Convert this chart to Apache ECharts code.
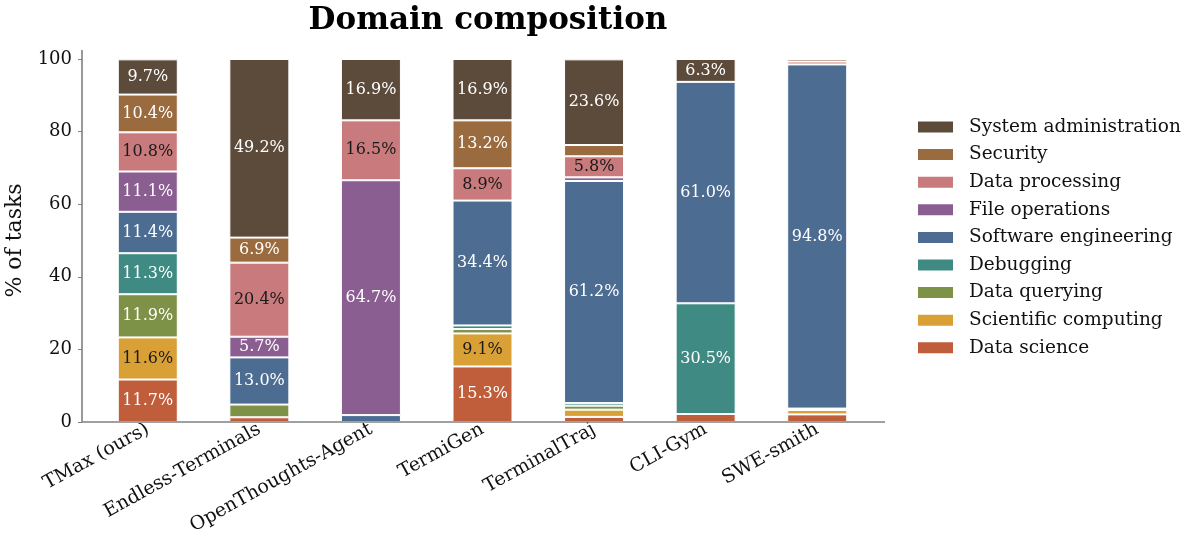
<!DOCTYPE html>
<html>
<head>
<meta charset="utf-8">
<script src="https://cdn.jsdelivr.net/npm/echarts@6/dist/echarts.min.js"></script>
<style>html,body{margin:0;padding:0;background:#fff}#c{width:1193px;height:535px}</style>
</head>
<body>
<div id="c"></div>
<script>
const categories = ['TMax (ours)', 'Endless-Terminals', 'OpenThoughts-Agent', 'TermiGen', 'TerminalTraj', 'CLI-Gym', 'SWE-smith'];
const yTicks = [0, 20, 40, 60, 80, 100];

const dataScience    = [11.7, 1.3, 0,    15.3, 1.4,  2.2,  2.1];
const sciComputing   = [11.6, 0,   0,    9.1,  2.0,  0,    1.2];
const dataQuerying   = [11.9, 3.5, 0,    1.2,  1.1,  0,    0.4];
const debugging      = [11.3, 0,   0,    1.0,  0.7,  30.5, 0];
const softwareEng    = [11.4, 13.0, 1.9, 34.4, 61.2, 61.0, 94.8];
const fileOps        = [11.1, 5.7, 64.7, 0,    1.0,  0,    0];
const dataProcessing = [10.8, 20.4, 16.5, 8.9, 5.8,  0,    0.8];
const security       = [10.4, 6.9, 0,    13.2, 3.1,  0,    0.7];
const sysAdmin       = [9.7, 49.2, 16.9, 16.9, 23.6, 6.3,  0];

const domains = [
  { name: 'Data science',          data: dataScience,    color: '#c05e3c', text: '#ffffff' },
  { name: 'Scientific computing',  data: sciComputing,   color: '#d9a036', text: '#1a1a1a' },
  { name: 'Data querying',         data: dataQuerying,   color: '#7d9147', text: '#ffffff' },
  { name: 'Debugging',             data: debugging,      color: '#3f8a82', text: '#ffffff' },
  { name: 'Software engineering',  data: softwareEng,    color: '#4c6c92', text: '#ffffff' },
  { name: 'File operations',       data: fileOps,        color: '#8b5e92', text: '#ffffff' },
  { name: 'Data processing',       data: dataProcessing, color: '#c87a7c', text: '#1a1a1a' },
  { name: 'Security',              data: security,       color: '#9a6b3e', text: '#ffffff' },
  { name: 'System administration', data: sysAdmin,       color: '#5c4b3b', text: '#ffffff' }
];

const serif = '"DejaVu Serif", "Liberation Serif", serif';
const chart = echarts.init(document.getElementById('c'));

chart.setOption({
  backgroundColor: '#ffffff',
  animation: false,
  title: {
    text: 'Domain composition',
    left: 483, top: 0, textAlign: 'center',
    textStyle: { fontFamily: serif, fontWeight: 'bold', fontSize: 31, color: '#000' }
  },
  legend: {
    data: domains.map(d => d.name).reverse(),
    orient: 'vertical',
    left: 911, top: 112,
    itemWidth: 37, itemHeight: 13, itemGap: 7.6,
    icon: 'rect',
    textStyle: { fontFamily: serif, fontSize: 18.5, color: '#111', lineHeight: 20, padding: [0, 0, 0, 10] }
  },
  grid: { left: 92, right: 320, top: 59, bottom: 113, containLabel: false, outerBoundsMode: 'none' },
  xAxis: {
    type: 'category',
    data: categories,
    axisLine: { show: false },
    axisTick: { show: false },
    axisLabel: { rotate: 29, fontFamily: serif, fontSize: 19, color: '#111', margin: 6, interval: 0 }
  },
  yAxis: {
    type: 'value',
    min: 0, max: 100, interval: 20,
    offset: 10,
    name: '% of tasks',
    nameLocation: 'middle',
    nameGap: 8,
    nameMoveOverlap: true,
    nameTextStyle: { fontFamily: serif, fontSize: 22, color: '#111' },
    axisLine: { show: false },
    axisTick: { show: true, length: 4, lineStyle: { color: '#808080', width: 1 } },
    axisLabel: {
      fontFamily: serif, fontSize: 18, color: '#111', margin: 10,
      formatter: v => (yTicks.indexOf(v) >= 0 ? String(v) : '')
    },
    splitLine: { show: false }
  },
  graphic: [
    { type: 'line', shape: { x1: 82, y1: 422, x2: 885, y2: 422 }, style: { stroke: '#808080', lineWidth: 1.6 }, z: 10 },
    { type: 'line', shape: { x1: 82, y1: 50, x2: 82, y2: 422 }, style: { stroke: '#808080', lineWidth: 1.6 }, z: 10 }
  ],
  series: domains.map(d => ({
    name: d.name,
    type: 'bar',
    stack: 'total',
    barWidth: 60,
    data: d.data.map(v => (v === 0 ? null : v)),
    itemStyle: { color: d.color, borderColor: '#ffffff', borderWidth: 1 },
    label: {
      show: true,
      position: 'inside',
      fontFamily: serif,
      fontSize: 16,
      color: d.text,
      formatter: p => (p.value >= 5 ? p.value.toFixed(1) + '%' : '')
    }
  }))
});
</script>
</body>
</html>
